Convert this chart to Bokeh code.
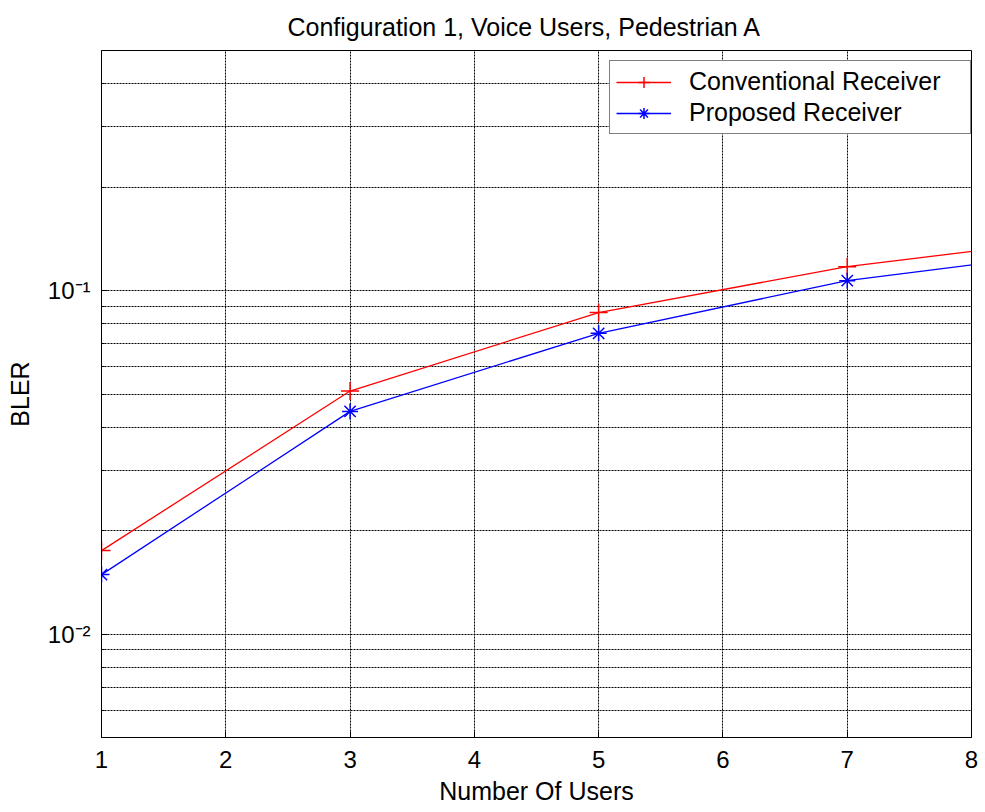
from bokeh.plotting import figure
from bokeh.models import (Range1d, FixedTicker, Legend, LegendItem)
from bokeh.embed import file_html
from bokeh.resources import INLINE

# ---- data ----
users = [1, 3, 5, 7, 9]
bler_conventional = [0.0175, 0.051, 0.0863, 0.1174, 0.144]
bler_proposed = [0.0149, 0.0445, 0.0751, 0.1069, 0.132]

x_ticks = [1, 2, 3, 4, 5, 6, 7, 8]
y_major_ticks = [0.01, 0.1]
y_minor_ticks = [0.006, 0.007, 0.008, 0.009,
                 0.02, 0.03, 0.04, 0.05, 0.06, 0.07, 0.08, 0.09,
                 0.2, 0.3, 0.4]
y_tick_labels = ["10\u207b\u00b2", "10\u207b\u00b9"]

title_text = "Configuration 1, Voice Users, Pedestrian A"
x_label = "Number Of Users"
y_label = "BLER"
series_names = ["Conventional Receiver", "Proposed Receiver"]

FONT = "Liberation Sans"
W, H = 983, 811

p = figure(width=W, height=H,
           x_range=Range1d(1, 8), y_range=Range1d(0.005, 0.5),
           y_axis_type="log",
           output_backend="svg", toolbar_location=None,
           min_border_left=101, min_border_right=12,
           min_border_top=47, min_border_bottom=74)

p.title.text = title_text
p.title.align = "left"
p.title.offset = 186
p.title.text_font = FONT
p.title.text_font_size = "25px"
p.title.text_font_style = "normal"
p.title.text_color = "black"
p.title.standoff = 20

p.background_fill_color = "white"
p.border_fill_color = "white"
p.outline_line_color = "black"
p.outline_line_width = 1

xticker = FixedTicker(ticks=x_ticks)
yticker = FixedTicker(ticks=y_major_ticks, minor_ticks=y_minor_ticks)

# bottom axis
xa = p.xaxis[0]
xa.ticker = xticker
xa.axis_label = x_label
xa.axis_label_text_font = FONT
xa.axis_label_text_font_size = "25px"
xa.axis_label_text_font_style = "normal"
xa.axis_label_text_color = "black"
xa.axis_label_standoff = 6
xa.major_label_text_font = FONT
xa.major_label_text_font_size = "24px"
xa.major_label_text_color = "black"
xa.major_label_standoff = 13
xa.major_tick_in = 6
xa.major_tick_out = 0
xa.minor_tick_in = 0
xa.minor_tick_out = 0
xa.axis_line_color = "black"

# left axis
ya = p.yaxis[0]
ya.ticker = yticker
ya.major_label_overrides = {t: s for t, s in zip(y_major_ticks, y_tick_labels)}
ya.axis_label = y_label
ya.axis_label_text_font = FONT
ya.axis_label_text_font_size = "25px"
ya.axis_label_text_font_style = "normal"
ya.axis_label_text_color = "black"
ya.axis_label_standoff = 11
ya.major_label_text_font = FONT
ya.major_label_text_font_size = "24px"
ya.major_label_text_color = "black"
ya.major_label_standoff = 11
ya.major_tick_in = 6
ya.major_tick_out = 0
ya.minor_tick_in = 3
ya.minor_tick_out = 0
ya.axis_line_color = "black"

# grids (MATLAB dotted)
p.xgrid.ticker = xticker
p.ygrid.ticker = yticker
for g in (p.xgrid[0], p.ygrid[0]):
    g.grid_line_color = "black"
    g.grid_line_dash = "2 1"
    g.grid_line_width = 1
    g.grid_line_alpha = 1.0
p.ygrid[0].minor_grid_line_color = "black"
p.ygrid[0].minor_grid_line_dash = "2 1"
p.ygrid[0].minor_grid_line_alpha = 1.0

# series
l1 = p.line(users, bler_conventional, line_color="#ff0000", line_width=1.3)
s1 = p.scatter(users, bler_conventional, marker="cross", size=18,
               line_color="#ff0000", line_width=1.5)
l2 = p.line(users, bler_proposed, line_color="#0000ff", line_width=1.3)
s2 = p.scatter(users, bler_proposed, marker="asterisk", size=16,
               line_color="#0000ff", line_width=1.5)

legend = Legend(items=[LegendItem(label=series_names[0], renderers=[l1, s1]),
                       LegendItem(label=series_names[1], renderers=[l2, s2])],
                location=(508, 603))
legend.border_line_color = "black"
legend.border_line_width = 1
legend.background_fill_color = "white"
legend.background_fill_alpha = 1
legend.label_text_font = FONT
legend.label_text_font_size = "25px"
legend.label_text_color = "black"
legend.glyph_width = 55
legend.glyph_height = 28
legend.label_height = 28
legend.label_standoff = 18
legend.label_width = 275
legend.padding = 6
legend.spacing = 2
legend.margin = 0
p.add_layout(legend, "center")

open("out.html", "w").write(file_html(p, INLINE))
